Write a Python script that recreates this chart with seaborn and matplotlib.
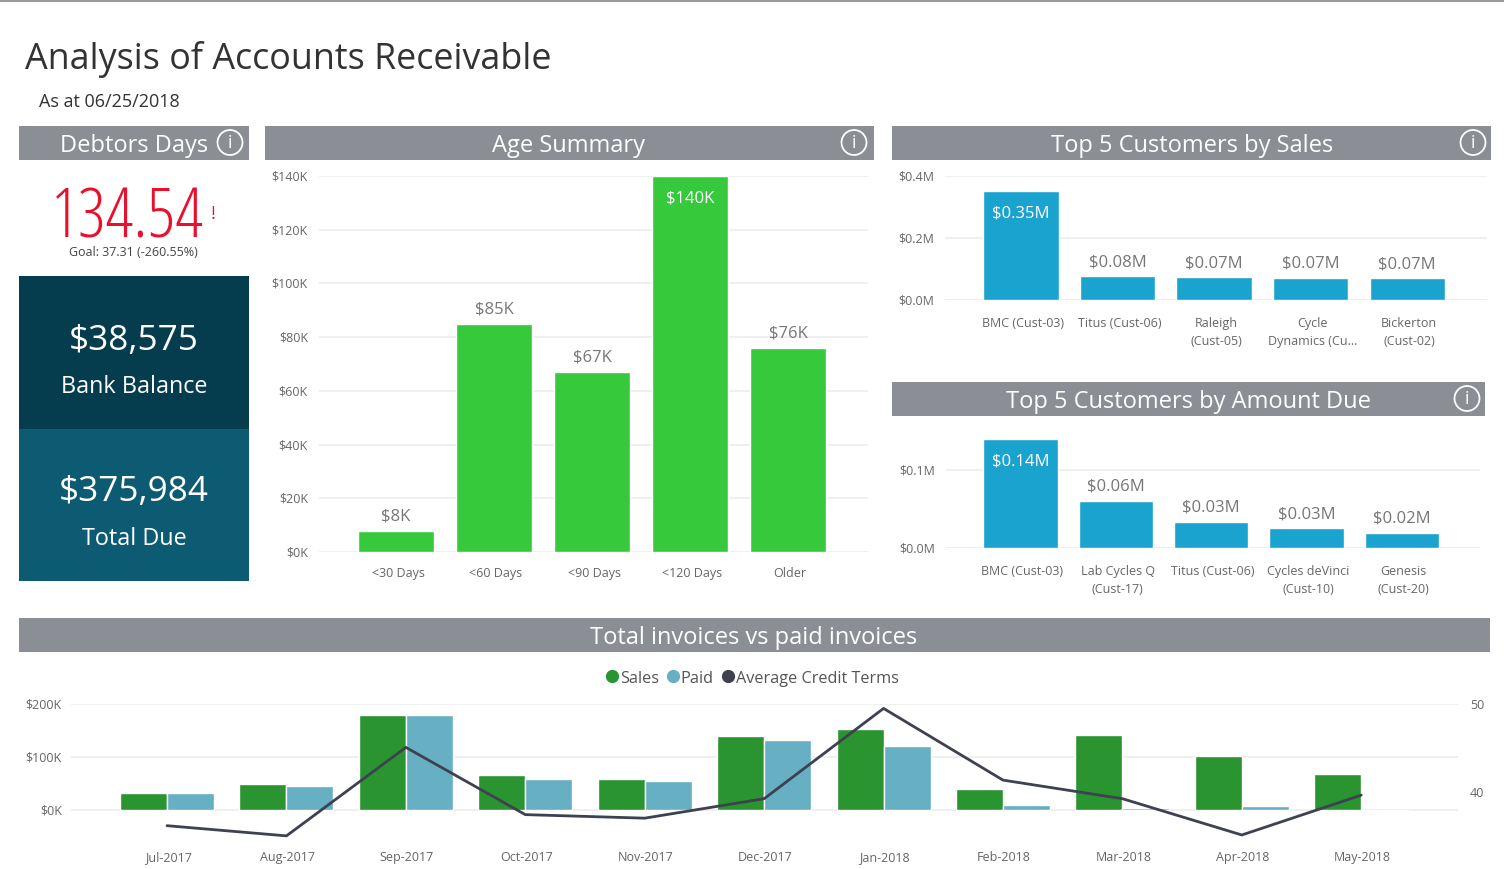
import matplotlib
matplotlib.use("Agg")
import matplotlib.pyplot as plt
from matplotlib.patches import Rectangle, Circle
from matplotlib.lines import Line2D
from matplotlib.transforms import ScaledTranslation
import pandas as pd
import seaborn as sns

age_labels = ["<30 Days", "<60 Days", "<90 Days", "<120 Days", "Older"]
age_values = [8, 85, 67, 140, 76]
age_text = ["$8K", "$85K", "$67K", "$140K", "$76K"]

sales_customers = ["BMC (Cust-03)", "Titus (Cust-06)", "Raleigh\n(Cust-05)", "Cycle\nDynamics (Cu...", "Bickerton\n(Cust-02)"]
sales_values = [0.351, 0.076, 0.073, 0.072, 0.07]
sales_text = ["$0.35M", "$0.08M", "$0.07M", "$0.07M", "$0.07M"]

due_customers = ["BMC (Cust-03)", "Lab Cycles Q\n(Cust-17)", "Titus (Cust-06)", "Cycles deVinci\n(Cust-10)", "Genesis\n(Cust-20)"]
due_values = [0.14, 0.0605, 0.033, 0.025, 0.019]
due_text = ["$0.14M", "$0.06M", "$0.03M", "$0.03M", "$0.02M"]

months = ["Jul-2017", "Aug-2017", "Sep-2017", "Oct-2017", "Nov-2017", "Dec-2017",
          "Jan-2018", "Feb-2018", "Mar-2018", "Apr-2018", "May-2018"]
sales_k = [33, 50, 180, 67, 58, 139, 152, 39, 142, 101, 68]
paid_k = [33, 46, 180, 59, 54, 133, 120, 10, 3, 8, -2.5]
credit_terms = [36.25, 35.1, 45.1, 37.5, 37.1, 39.3, 49.5, 41.4, 39.3, 35.2, 39.7]

FONT = "Open Sans"
W, H = 1504, 870
GREY = "#8b8e95"
TICK = "#666666"
GRID = "#eeeeee"

sns.set_theme(style="white")
plt.rcParams["font.family"] = [FONT, "DejaVu Sans"]
fig = plt.figure(figsize=(W / 100, H / 100), dpi=100, facecolor="white")


def px_axes(x0, y0, x1, y1, **kw):
    return fig.add_axes([x0 / W, 1 - (y1 + 1) / H, (x1 - x0) / W, (y1 - y0) / H], **kw)


deco = px_axes(0, -1, W, H - 1)
deco.set_xlim(0, W)
deco.set_ylim(H - 1, -1)
deco.axis("off")
deco.set_zorder(0)


def rect(x0, y0, x1, y1, color):
    deco.add_patch(Rectangle((x0, y0), x1 - x0, y1 - y0, facecolor=color, edgecolor="none"))


def header(x0, x1, y0, text, cx, icon=None):
    rect(x0, y0, x1, y0 + 34, GREY)
    deco.text(cx, y0 + 19, text, color="white", fontsize=17, ha="center", va="center")
    if icon:
        deco.add_patch(Circle((icon, y0 + 16.5), 12.5, fill=False, edgecolor="white", linewidth=1.3))
        deco.text(icon, y0 + 16.5, "i", color="white", fontsize=13, ha="center", va="center")


rect(0, -1, W, 2, "#999999")
deco.text(25, 59, "Analysis of Accounts Receivable", fontsize=25.8, color="#333333", va="center")
deco.text(39, 101, "As at 06/25/2018", fontsize=13, color="#333333", va="center")

header(19, 249, 126, "Debtors Days", 134, 230)
header(265, 874, 126, "Age Summary", 569, 854)
header(892, 1491, 126, "Top 5 Customers by Sales", 1192, 1473)
header(892, 1485, 382, "Top 5 Customers by Amount Due", 1189, 1467)
header(19, 1490, 618, "Total invoices vs paid invoices", 754)

deco.text(127.5, 219, "134.54", color="#e8112d", fontsize=50, family="Open Sans", fontweight="light",
          stretch="condensed", ha="center", va="center")
deco.text(213, 213, "!", color="#e8112d", fontsize=13, ha="center", va="center")
deco.text(133.5, 252, "Goal: 37.31 (-260.55%)", color="#444444", fontsize=9, ha="center", va="center")

rect(19, 276, 249, 429, "#053d4e")
rect(19, 429, 249, 581, "#0d5a73")
deco.text(134, 340, "$38,575", color="white", fontsize=25.3, ha="center", va="center")
deco.text(134, 386, "Bank Balance", color="white", fontsize=16.8, ha="center", va="center")
deco.text(134, 491, "$375,984", color="white", fontsize=25.3, ha="center", va="center")
deco.text(134, 538, "Total Due", color="white", fontsize=16.8, ha="center", va="center")


def nudge(labels, dx_px, dy_px):
    shift = ScaledTranslation(dx_px / 100, dy_px / 100, fig.dpi_scale_trans)
    for lab in labels:
        lab.set_transform(lab.get_transform() + shift)


def style(ax, xpad=10, ypad=8, xnudge=2):
    ax.set_facecolor("none")
    ax.set_xlabel("")
    ax.set_ylabel("")
    sns.despine(ax=ax, left=True, bottom=True)
    ax.grid(axis="y", color=GRID, linewidth=1.3)
    ax.set_axisbelow(True)
    ax.tick_params(axis="both", length=0, labelsize=9, labelcolor=TICK)
    ax.tick_params(axis="y", pad=ypad)
    ax.tick_params(axis="x", pad=xpad)
    for lab in ax.get_xticklabels():
        lab.set_linespacing(1.45)
    nudge(ax.get_xticklabels(), xnudge, 0)
    nudge(ax.get_yticklabels(), 0, 1.5)


def value_labels(ax, texts, inside):
    for i, (patch, txt) in enumerate(zip(ax.patches, texts)):
        cx = patch.get_x() + patch.get_width() / 2
        top = patch.get_height()
        if i == inside:
            ax.annotate(txt, (cx, top), xytext=(0, -15.5), textcoords="offset points", color="white",
                        fontsize=12, ha="center", va="center")
        else:
            ax.annotate(txt, (cx, top), xytext=(0, 11), textcoords="offset points", color="#777777",
                        fontsize=12, ha="center", va="center")


def column_chart(box, labels, values, texts, color, width, xlim, ylim, yticks, yfmt, xpad):
    ax = px_axes(*box)
    frame = pd.DataFrame({"label": labels, "value": values})
    sns.barplot(data=frame, x="label", y="value", color=color, saturation=1, width=width, ax=ax)
    ax.set_xlim(*xlim)
    ax.set_ylim(*ylim)
    ax.set_yticks(yticks)
    ax.set_yticklabels([yfmt(v) for v in yticks])
    style(ax, xpad)
    value_labels(ax, texts, int(pd.Series(values).idxmax()))
    return ax


column_chart((319, 176, 868, 552), age_labels, age_values, age_text, "#36c93c", 0.776,
             (-0.786, 4.816), (0, 140), [0, 20, 40, 60, 80, 100, 120, 140], lambda v: f"${v}K", 10)
column_chart((945.5, 176, 1486.5, 300), sales_customers, sales_values, sales_text, "#1ba3cf", 0.78,
             (-0.78, 4.82), (0, 0.4), [0, 0.2, 0.4], lambda v: f"${v:.1f}M", 11.7)
column_chart((946, 438, 1480, 548), due_customers, due_values, due_text, "#1ba3cf", 0.78,
             (-0.78, 4.82), (0, 0.1408), [0, 0.1], lambda v: f"${v:.1f}M", 11.7)

ax = px_axes(71, 704, 1458, 845)
long = pd.DataFrame({"month": months * 2, "kind": ["Sales"] * 11 + ["Paid"] * 11, "value": sales_k + paid_k})
sns.barplot(data=long, x="month", y="value", hue="kind", palette=["#2a9430", "#67afc3"], saturation=1,
            width=0.787, gap=0, legend=False, ax=ax)
ax.set_xlim(-0.804, 10.81)
ax.set_ylim(-66, 200)
ax.set_yticks([0, 100, 200])
ax.set_yticklabels(["$0K", "$100K", "$200K"])
style(ax, 10.8, 6.5, 1)
for lab in ax.get_xticklabels():
    lab.set_va("baseline")

ax2 = ax.twinx()
sns.lineplot(x=months, y=credit_terms, color="#3d4150", linewidth=2, sort=False, ax=ax2, clip_on=False)
ax2.set_ylim(50 - 141 / 8.85, 50)
ax2.set_yticks([40, 50])
ax2.set_ylabel("")
ax2.grid(False)
ax2.set_facecolor("none")
sns.despine(ax=ax2, left=True, bottom=True, right=True)
ax2.tick_params(axis="y", length=0, labelsize=9, labelcolor=TICK, pad=8.5)
nudge(ax2.get_yticklabels(), 0, 1)

handles = [Line2D([], [], linestyle="none", marker="o", markersize=8.5, color=c)
           for c in ("#2a9430", "#67afc3", "#3d4150")]
fig.legend(handles, ["Sales", "Paid", "Average Credit Terms"], ncol=3, frameon=False,
           loc="center", bbox_to_anchor=(753 / W, 1 - 679 / H), fontsize=11.7, labelcolor="#555555",
           handlelength=0.6, handletextpad=0.15, columnspacing=0.6, borderpad=0)

fig.savefig("out.png", dpi=100, facecolor="white")
